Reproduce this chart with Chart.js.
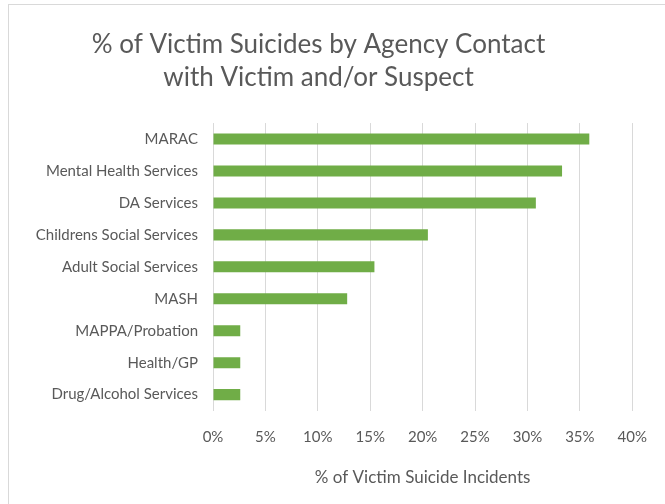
<!DOCTYPE html>
<html>
<head>
<meta charset="utf-8">
<script src="https://cdn.jsdelivr.net/npm/chart.js@4/dist/chart.umd.min.js"></script>
<style>
  body { margin: 0; width: 665px; height: 504px; overflow: hidden; background: #fff; }
  #frame { position: absolute; left: 8px; top: 4px; width: 700px; height: 540px; border: 1px solid #d9d9d9; }
  #wrap { position: absolute; left: 0; top: 0; width: 665px; height: 504px; }
</style>
</head>
<body>
<div id="frame"></div>
<div id="wrap"><canvas id="myChart"></canvas></div>
<script>
const agencies = [
  "MARAC",
  "Mental Health Services",
  "DA Services",
  "Childrens Social Services",
  "Adult Social Services",
  "MASH",
  "MAPPA/Probation",
  "Health/GP",
  "Drug/Alcohol Services"
];
const suicidePct = [35.9, 33.3, 30.8, 20.5, 15.4, 12.8, 2.6, 2.6, 2.6];

const textColor = "#595959";
const fontFamily = "Lato, 'Open Sans', sans-serif";

const ctx = document.getElementById("myChart").getContext("2d");
new Chart(ctx, {
  type: "bar",
  data: {
    labels: agencies,
    datasets: [{
      data: suicidePct,
      backgroundColor: "#70ad47",
      borderWidth: 0,
      categoryPercentage: 1,
      barPercentage: 0.345
    }]
  },
  options: {
    indexAxis: "y",
    responsive: true,
    maintainAspectRatio: false,
    animation: false,
    layout: {
      padding: { left: 0, right: 28, top: 24, bottom: 16 }
    },
    plugins: {
      legend: { display: false },
      tooltip: { enabled: false },
      title: {
        display: true,
        text: ["% of Victim Suicides by Agency Contact", "with Victim and/or Suspect"],
        color: textColor,
        font: { family: fontFamily, size: 26, weight: "normal", lineHeight: 1.27 },
        padding: { top: 4, bottom: 29 }
      }
    },
    scales: {
      x: {
        min: 0,
        max: 40,
        ticks: {
          stepSize: 5,
          color: textColor,
          padding: 18,
          font: { family: fontFamily, size: 15 },
          callback: (v) => v + "%"
        },
        grid: { color: "#d9d9d9", lineWidth: 1, drawTicks: false },
        border: { display: false },
        title: {
          display: true,
          text: "% of Victim Suicide Incidents",
          color: textColor,
          font: { family: fontFamily, size: 17 },
          padding: { top: 3, bottom: 0 }
        }
      },
      y: {
        ticks: {
          color: textColor,
          padding: 15,
          font: { family: fontFamily, size: 15 }
        },
        grid: { display: false, drawTicks: false },
        border: { display: false },
        afterFit: (scale) => { scale.width = 213; }
      }
    }
  }
});
</script>
</body>
</html>
